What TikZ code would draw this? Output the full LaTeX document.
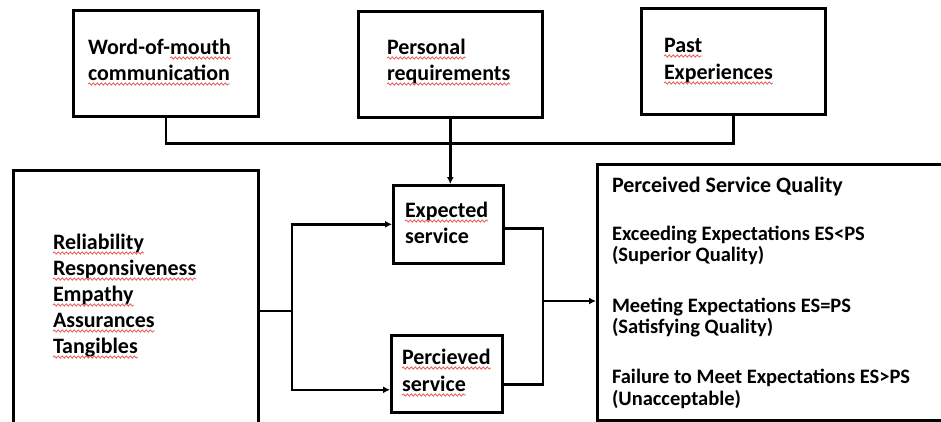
\documentclass[tikz,border=0pt]{standalone}
\usepackage{fontspec}
\setmainfont{Carlito}
\usetikzlibrary{arrows.meta,decorations.pathmorphing}
\definecolor{sqred}{RGB}{235,100,100}
\tikzset{
  box/.style={draw, line width=2.6pt, inner sep=0pt, anchor=north west},
  txt/.style={inner sep=0pt, outer sep=0pt, anchor=base west, font=\fontsize{22}{26}\selectfont\bfseries},
  qtitle/.style={txt, font=\fontsize{22}{26}\selectfont\bfseries},
  qtxt/.style={txt, font=\fontsize{20.5}{24}\selectfont\bfseries},
  conn/.style={line width=2.6pt},
  arr/.style={conn, -{Latex[length=7pt,width=7pt]}},
  sq/.style={draw=sqred, line width=0.9pt, decorate, decoration={snake, amplitude=1.1pt, segment length=4pt}}
}
\newcommand\squig[1]{\draw[sq] ([yshift=-4pt]#1.base west) -- ([yshift=-4pt]#1.base east);}
\begin{document}
\begin{tikzpicture}[x=1pt,y=-1pt]
\useasboundingbox (0,0) rectangle (941,421);
\clip (0,0) rectangle (941,421);
\fill[white] (0,0) rectangle (941,421);
% top boxes
\node[box, minimum width=185pt, minimum height=106pt] (wom) at (72,9) {};
\node[box, minimum width=184pt, minimum height=106pt] (per) at (357,10) {};
\node[box, minimum width=184pt, minimum height=106pt] (past) at (640,7) {};
% left box
\node[box, minimum width=245pt, minimum height=300pt] (left) at (12,169) {};
% middle boxes
\node[box, minimum width=110pt, minimum height=78pt] (exp) at (392,184) {};
\node[box, minimum width=111pt, minimum height=77pt] (perc) at (390,334) {};
% quality box
\node[box, minimum width=400pt, minimum height=256pt] (psq) at (596,163) {};
% texts
\node[txt] (t1a) at (88,54) {Word-of-};
\node[txt] (t1b) at (t1a.base east) {mouth};
\node[txt] (t1c) at (88,80) {communication};
\node[txt] (t2a) at (387,54) {Personal};
\node[txt] (t2b) at (387,80) {requirements};
\node[txt] (t3a) at (664,52) {Past};
\node[txt] (t3b) at (664,79) {Experiences};
\node[txt] (l1) at (53,249) {Reliability};
\node[txt] (l2) at (53,275) {Responsiveness};
\node[txt] (l3) at (53,301) {Empathy};
\node[txt] (l4) at (53,327) {Assurances};
\node[txt] (l5) at (53,353) {Tangibles};
\node[txt] (e1) at (405,217) {Expected};
\node[txt] (e2) at (405,243) {service};
\node[txt] (p1) at (402,364) {Percieved};
\node[txt] (p2) at (402,391) {service};
\node[qtitle] (q0) at (612,192) {Perceived Service Quality};
\node[qtxt] (q1) at (612,240) {Exceeding Expectations ES<PS};
\node[qtxt] (q2) at (612,261) {(Superior Quality)};
\node[qtxt] (q3) at (612,312) {Meeting Expectations ES=PS};
\node[qtxt] (q4) at (612,333) {(Satisfying Quality)};
\node[qtxt] (q5) at (612,383) {Failure to Meet Expectations ES>PS};
\node[qtxt] (q6) at (612,405) {(Unacceptable)};
% squiggles
\foreach \n in {t1b,t1c,t2a,t2b,t3a,t3b,l1,l2,l3,l4,l5,e1,p1,p2} {\squig{\n}}
% connectors
\coordinate (j1) at (292,311);
\coordinate (j2) at (543,301);
\draw[conn] (wom.south) -- ++(0,26) -| (past.south);
\draw[arr] (per.south) -- (per.south |- exp.north);
\draw[conn] (j1 -| left.east) -- (j1);
\draw[arr] (j1) |- (exp.west);
\draw[arr] (j1) |- ([yshift=-16pt]perc.west);
\draw[conn] ([yshift=-4pt]exp.east) -| (j2) |- ([yshift=-10.5pt]perc.east);
\draw[arr] (j2) -- (j2 -| psq.west);
\end{tikzpicture}
\end{document}
